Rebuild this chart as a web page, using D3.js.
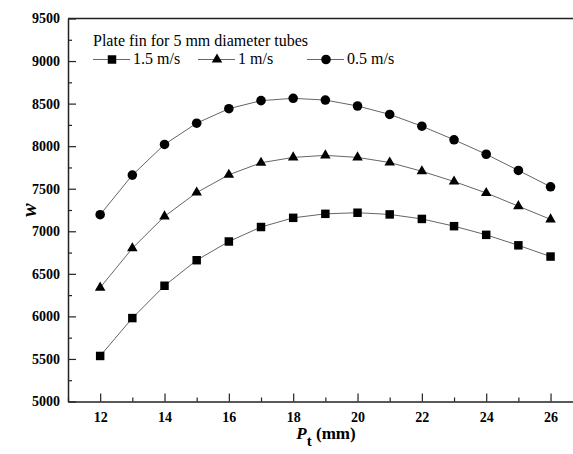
<!DOCTYPE html>
<html>
<head>
<meta charset="utf-8">
<script src="https://cdn.jsdelivr.net/npm/d3@7"></script>
<style>
  html, body { margin: 0; padding: 0; background: #fff; overflow: hidden; }
  svg text { font-family: "Liberation Serif", "Times New Roman", serif; }
</style>
</head>
<body>
<svg id="chart" width="573" height="454"></svg>
<script>
'use strict';

// ── Data ──────────────────────────────────────────────────
const pitch = [12, 13, 14, 15, 16, 17, 18, 19, 20, 21, 22, 23, 24, 25, 26];

const w15 = [5535, 5980, 6360, 6660, 6880, 7050, 7158, 7205, 7218, 7198, 7145, 7060, 6958, 6835, 6703];
const w10 = [6338, 6800, 7175, 7455, 7664, 7805, 7868, 7892, 7868, 7808, 7705, 7585, 7450, 7295, 7140];
const w05 = [7195, 7660, 8020, 8270, 8440, 8535, 8562, 8542, 8472, 8373, 8235, 8075, 7905, 7715, 7523];

const seriesNames = ['1.5 m/s', '1 m/s', '0.5 m/s'];
const xTicks = [12, 14, 16, 18, 20, 22, 24, 26];
const yTicks = [5000, 5500, 6000, 6500, 7000, 7500, 8000, 8500, 9000, 9500];

const legendTitle = 'Plate fin for 5 mm diameter tubes';

// ── Layout ────────────────────────────────────────────────
const margin = { left: 68, top: 18.5, bottom: 401.5 };
const svg = d3.select('#chart');

const x = d3.scaleLinear().domain([11, 27]).range([margin.left, margin.left + 16 * 32.17]);
const y = d3.scaleLinear().domain([5000, 9500]).range([margin.bottom, margin.top]);

const axisColor = '#222';
const lineColor = '#666';

// Frame top edge (right edge falls off the canvas)
svg.append('line')
  .attr('x1', x(11)).attr('x2', x(27))
  .attr('y1', y(9500)).attr('y2', y(9500))
  .attr('stroke', axisColor).attr('stroke-width', 1.5);

// Axes with inward ticks
const xMinor = d3.range(11, 28, 1).filter(v => v % 2 === 1);
const yMinor = d3.range(5250, 9500, 500);

const gx = svg.append('g').attr('transform', `translate(0,${y(5000)})`);
gx.call(d3.axisBottom(x).tickValues(xMinor).tickSizeInner(-4).tickSizeOuter(0).tickFormat(''));
gx.call(g => g.selectAll('.domain').remove());
gx.append('g').call(d3.axisBottom(x).tickValues(xTicks).tickSizeInner(-8).tickSizeOuter(0).tickPadding(11).tickFormat(d3.format('d')));

const gy = svg.append('g').attr('transform', `translate(${x(11)},0)`);
gy.call(d3.axisLeft(y).tickValues(yMinor).tickSizeInner(-4).tickSizeOuter(0).tickFormat(''));
gy.call(g => g.selectAll('.domain').remove());
gy.append('g').call(d3.axisLeft(y).tickValues(yTicks).tickSizeInner(-8).tickSizeOuter(0).tickPadding(8).tickFormat(d3.format('d')));

svg.selectAll('.domain').attr('stroke', axisColor).attr('stroke-width', 1.5);
svg.selectAll('.tick line').attr('stroke', axisColor).attr('stroke-width', 1.2);
svg.selectAll('.tick text')
  .attr('fill', '#000')
  .style('font-family', '"Liberation Serif", serif')
  .style('font-weight', 'bold')
  .style('font-size', '14px');

// Axis titles
svg.append('text')
  .attr('transform', `translate(36,${(margin.top + margin.bottom) / 2}) rotate(-90)`)
  .attr('text-anchor', 'middle')
  .style('font-size', '20px')
  .style('font-weight', 'bold')
  .style('font-style', 'italic')
  .text('w');

const xt = svg.append('text')
  .attr('x', 326).attr('y', 439)
  .attr('text-anchor', 'middle')
  .style('font-size', '17px')
  .style('font-weight', 'bold');
xt.append('tspan').style('font-style', 'italic').text('P');
xt.append('tspan').attr('dy', 7).style('font-size', '15px').text('t');
xt.append('tspan').attr('dy', -7).text(' (mm)');

// ── Series ────────────────────────────────────────────────
const series = [
  { name: seriesNames[0], values: w15, symbol: d3.symbolSquare,   size: 72 },
  { name: seriesNames[1], values: w10, symbol: d3.symbolTriangle, size: 48 },
  { name: seriesNames[2], values: w05, symbol: d3.symbolCircle,   size: 72 }
];

const line = d3.line()
  .x((d, i) => x(pitch[i]))
  .y(d => y(d));

series.forEach(s => {
  svg.append('path')
    .datum(s.values)
    .attr('d', line)
    .attr('fill', 'none')
    .attr('stroke', lineColor)
    .attr('stroke-width', 1);

  svg.append('g').selectAll('path')
    .data(s.values)
    .join('path')
    .attr('transform', (d, i) => `translate(${x(pitch[i])},${y(d)})`)
    .attr('d', d3.symbol(s.symbol, s.size))
    .attr('fill', '#000');
});

// ── Legend ────────────────────────────────────────────────
svg.append('text')
  .attr('x', 93).attr('y', 46)
  .style('font-size', '16px')
  .text(legendTitle);

const legendX = [93, 198, 307];
series.forEach((s, i) => {
  const lg = svg.append('g').attr('transform', `translate(${legendX[i]},59.5)`);
  lg.append('line')
    .attr('x1', 0).attr('x2', 37)
    .attr('y1', 0).attr('y2', 0)
    .attr('stroke', lineColor).attr('stroke-width', 1);
  lg.append('path')
    .attr('transform', 'translate(19,0)')
    .attr('d', d3.symbol(s.symbol, s.size))
    .attr('fill', '#000');
  lg.append('text')
    .attr('x', 40).attr('y', 4.5)
    .style('font-size', '16px')
    .text(s.name);
});
</script>
</body>
</html>
